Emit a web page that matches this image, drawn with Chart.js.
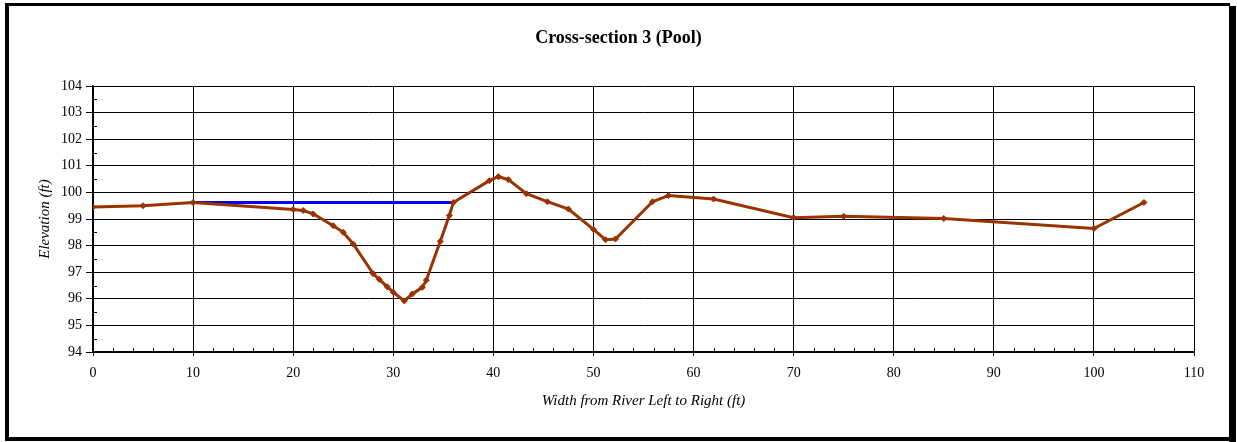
<!DOCTYPE html>
<html>
<head>
<meta charset="utf-8">
<script src="https://cdn.jsdelivr.net/npm/chart.js@4/dist/chart.umd.min.js"></script>
<style>
  html, body { margin: 0; padding: 0; background: #fff; overflow: hidden; }
  canvas { display: block; }
</style>
</head>
<body>
<canvas id="xsChart" width="1237" height="442"></canvas>
<script>
// ground profile
const groundX = [0, 5, 10, 20, 21, 22, 24, 25, 26, 28, 28.6, 29.4, 30, 31.1, 31.9, 32.9, 33.3, 34.7, 35.6, 36,
                 39.6, 40.5, 41.5, 43.3, 45.4, 47.5, 50, 51.2, 52.2, 55.9, 57.5, 62, 70, 75, 85, 100, 105];
const groundElev = [99.45, 99.5, 99.62, 99.36, 99.32, 99.19, 98.75, 98.5, 98.06, 96.94, 96.73, 96.45, 96.25, 95.92, 96.18, 96.43, 96.7, 98.16, 99.13, 99.62,
                    100.44, 100.59, 100.48, 99.95, 99.65, 99.375, 98.61, 98.22, 98.25, 99.65, 99.88, 99.75, 99.05, 99.1, 99.02, 98.64, 99.62];

// water surface
const waterX = [10, 36];
const waterElev = [99.62, 99.62];

// axis ranges
const xTicks = { min: 0, max: 110, step: 10, minorStep: 2 };
const yTicks = { min: 94, max: 104, step: 1, minorStep: 0.5 };

const SERIF = '"Liberation Serif", "Times New Roman", serif';

// small inside tick marks + outer frame with shadow
const decorations = {
    id: 'decorations',
    beforeDatasetsDraw(chart) {
        const { ctx, chartArea: a, scales } = chart;
        ctx.save();
        ctx.strokeStyle = '#000';
        ctx.lineWidth = 1;
        ctx.beginPath();
        for (let v = yTicks.min + yTicks.minorStep; v < yTicks.max; v += yTicks.step) {
            const y = Math.round(scales.y.getPixelForValue(v)) + 0.5;
            ctx.moveTo(a.left, y);
            ctx.lineTo(a.left + 4, y);
        }
        for (let v = xTicks.min + xTicks.minorStep; v < xTicks.max; v += xTicks.minorStep) {
            if (v % xTicks.step === 0) continue;
            const x = Math.round(scales.x.getPixelForValue(v)) + 0.5;
            ctx.moveTo(x, a.bottom);
            ctx.lineTo(x, a.bottom - 4);
        }
        ctx.stroke();
        ctx.restore();
    },
    afterDraw(chart) {
        const { ctx, width, height } = chart;
        ctx.save();
        ctx.fillStyle = '#000';
        ctx.fillRect(5, 3, width - 12, 3);          // top
        ctx.fillRect(5, 3, 4, height - 5);          // left
        ctx.fillRect(width - 8, 6, 7, height - 6);  // right + shadow
        ctx.fillRect(5, height - 5, width - 6, 4);  // bottom + shadow
        ctx.restore();
    }
};

new Chart(document.getElementById('xsChart'), {
    type: 'line',
    data: {
        datasets: [
            {
                label: 'Ground',
                data: groundX.map((x, i) => ({ x: x, y: groundElev[i] })),
                borderColor: '#993300',
                backgroundColor: '#993300',
                borderWidth: 3,
                pointStyle: 'rectRot',
                pointRadius: 3,
                pointBorderWidth: 1,
                tension: 0,
                order: 1
            },
            {
                label: 'Water',
                data: waterX.map((x, i) => ({ x: x, y: waterElev[i] })),
                borderColor: '#0000ff',
                backgroundColor: '#0000ff',
                borderWidth: 3,
                pointRadius: 0,
                tension: 0,
                order: 2
            }
        ]
    },
    options: {
        responsive: false,
        animation: false,
        layout: { padding: { left: 10, right: 10, top: 0, bottom: 0 } },
        plugins: {
            legend: { display: false },
            tooltip: { enabled: false },
            title: {
                display: true,
                text: 'Cross-section 3 (Pool)',
                color: '#000',
                font: { family: SERIF, size: 18, weight: 'bold', lineHeight: 1.2 },
                padding: { top: 28, bottom: 36.4 }
            }
        },
        scales: {
            x: {
                type: 'linear',
                min: xTicks.min,
                max: xTicks.max,
                afterFit: s => { s.height = 90; },
                ticks: {
                    stepSize: xTicks.step,
                    color: '#000',
                    padding: 9,
                    maxRotation: 0,
                    font: { family: SERIF, size: 14 }
                },
                grid: { color: '#000', lineWidth: 1, tickLength: 4, drawTicks: true },
                border: { color: '#000', width: 1.5 },
                title: {
                    display: true,
                    text: 'Width from River Left to Right (ft)',
                    color: '#000',
                    font: { family: SERIF, size: 15, style: 'italic', lineHeight: 1.2 },
                    padding: { top: 0, bottom: 32 }
                }
            },
            y: {
                min: yTicks.min,
                max: yTicks.max,
                afterFit: s => { s.width = 83; },
                ticks: {
                    stepSize: yTicks.step,
                    color: '#000',
                    padding: 4,
                    font: { family: SERIF, size: 14 }
                },
                grid: { color: '#000', lineWidth: 1, tickLength: 7, drawTicks: true },
                border: { color: '#000', width: 1.5 },
                title: {
                    display: true,
                    text: 'Elevation (ft)',
                    color: '#000',
                    font: { family: SERIF, size: 15, style: 'italic', lineHeight: 1.2 },
                    padding: { top: 26, bottom: 0 }
                }
            },
            // empty right margin so the title sits centred on the whole frame
            yRight: {
                position: 'right',
                min: yTicks.min,
                max: yTicks.max,
                afterFit: s => { s.width = 33; },
                ticks: { display: false },
                grid: { display: false, drawTicks: false },
                border: { display: false }
            }
        }
    },
    plugins: [decorations]
});
</script>
</body>
</html>
